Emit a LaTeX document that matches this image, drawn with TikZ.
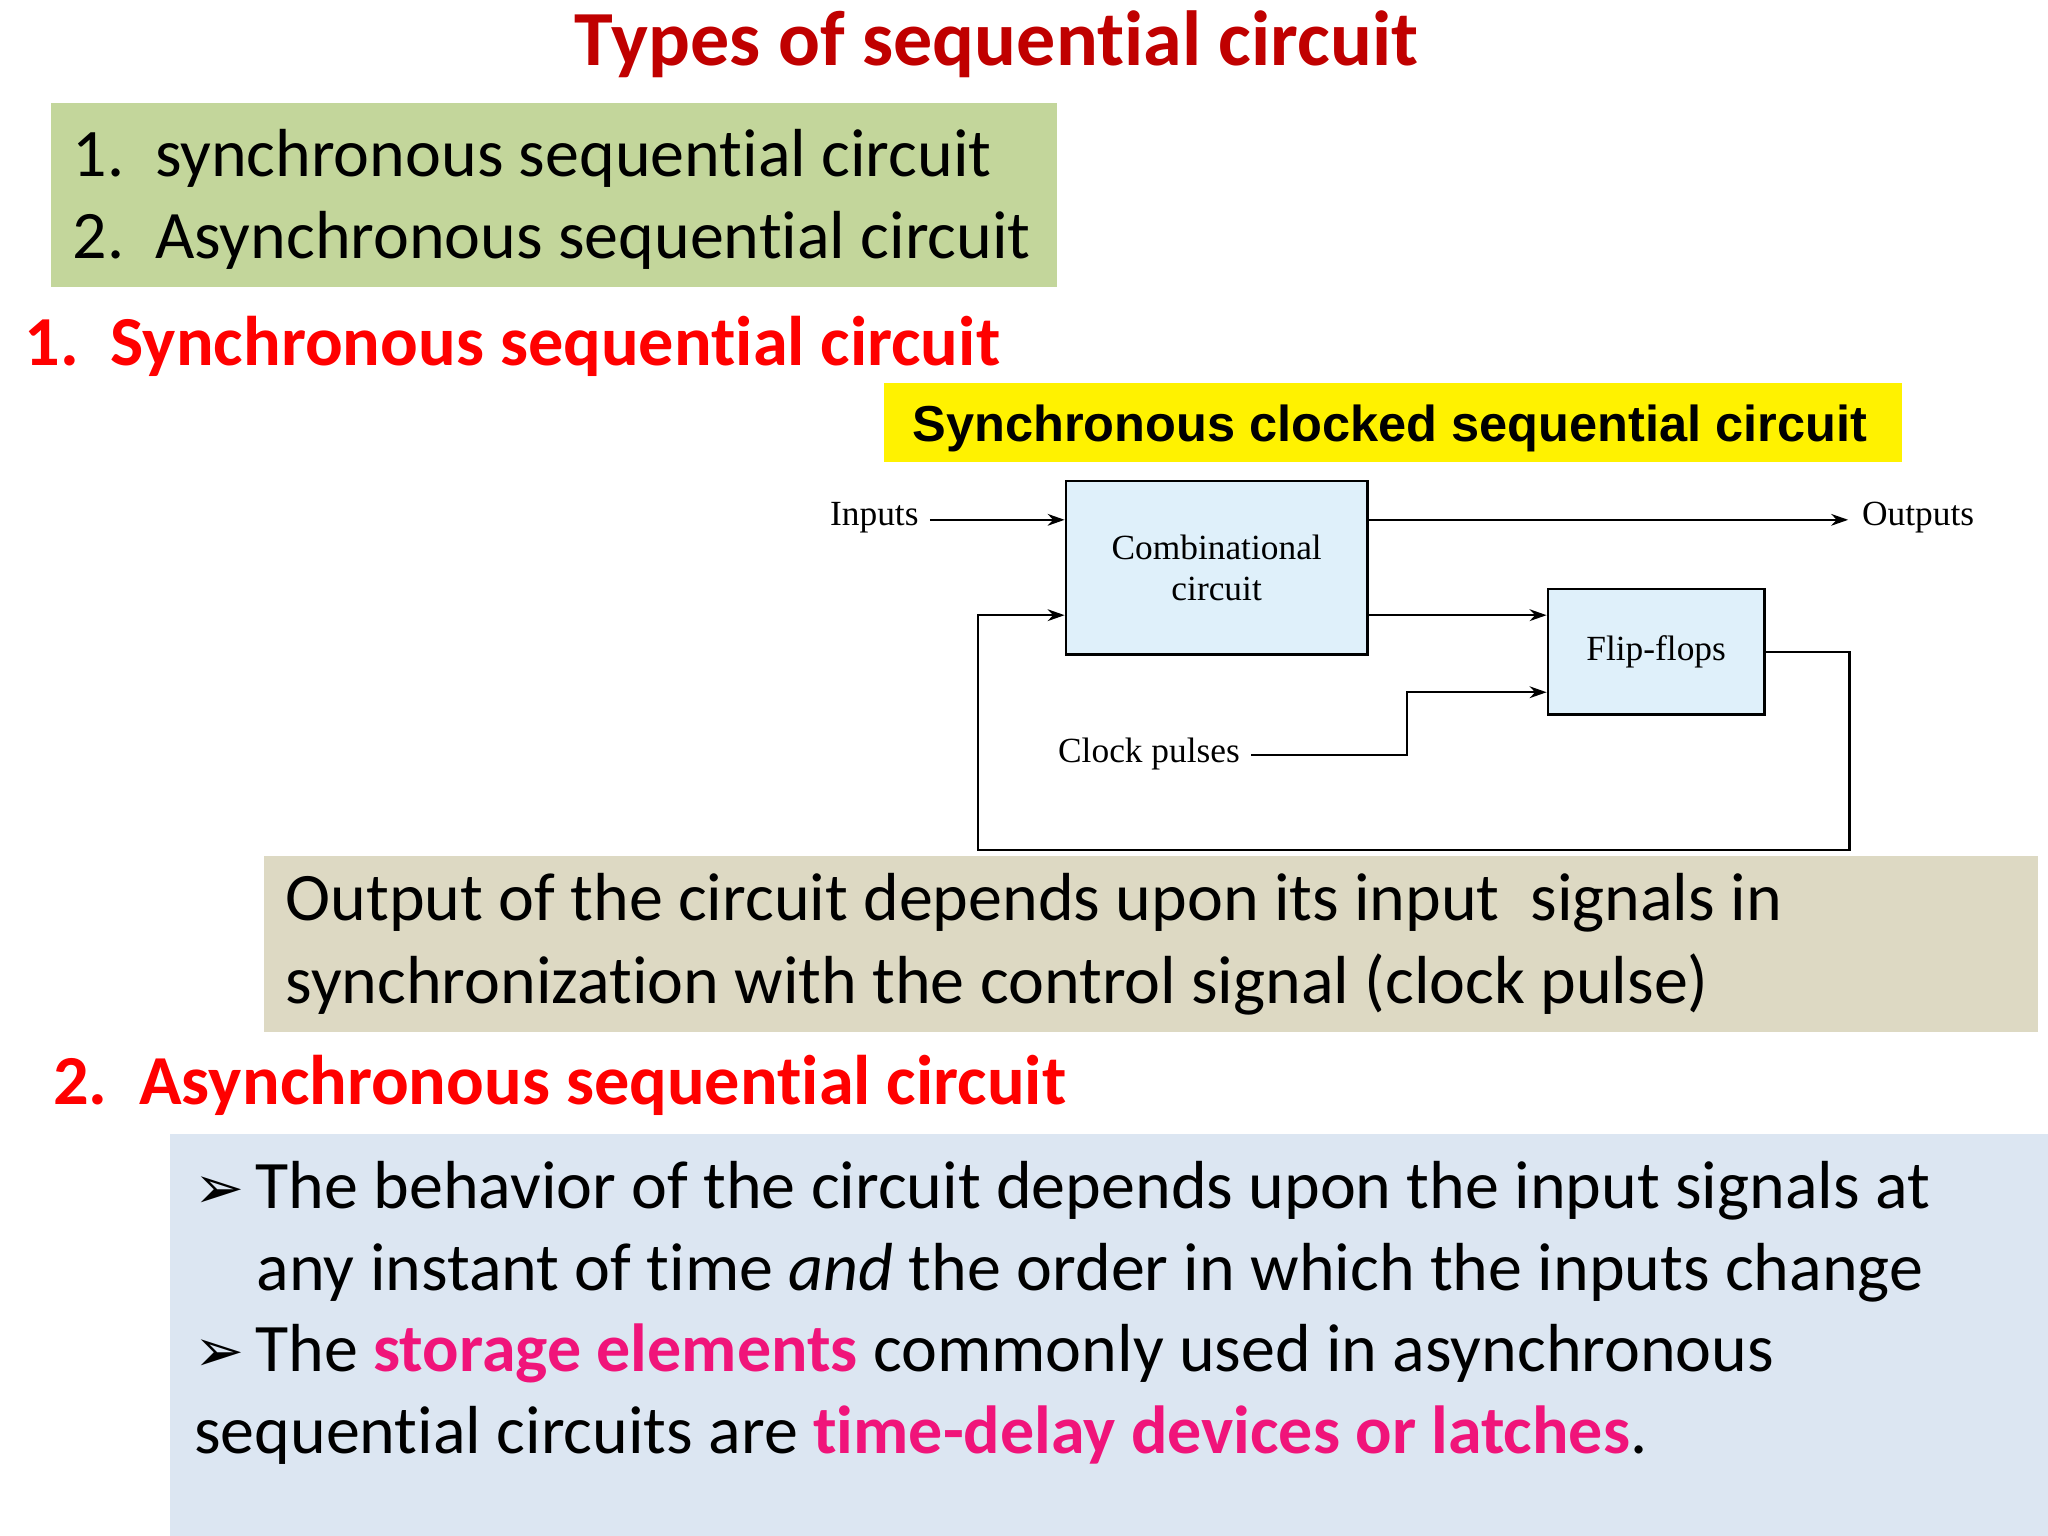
\documentclass[tikz,border=0pt]{standalone}
\usepackage{fontspec}
\setmainfont{Carlito}[Ligatures={NoCommon}]
\newfontfamily\arialf{Liberation Sans}
\newfontfamily\serf{Liberation Serif}
\newfontfamily\djv{DejaVu Sans}
\usetikzlibrary{arrows.meta}
\definecolor{titlered}{HTML}{C00000}
\definecolor{headred}{HTML}{FF0000}
\definecolor{mag}{HTML}{F0147A}
\definecolor{greenbox}{HTML}{C3D69B}
\definecolor{beige}{HTML}{DDD9C3}
\definecolor{bluebox}{HTML}{DCE6F2}
\definecolor{blockfill}{HTML}{DFF0FA}
\begin{document}
\begin{tikzpicture}[x=0.01cm,y=-0.01cm,
  line/.style={line width=0.5pt,black},
  arr/.style={line, -{Stealth[length=1.3mm,width=0.9mm]}},
  blk/.style={draw,line width=0.5pt,fill=blockfill,inner sep=0},
  txt/.style={anchor=base west,inner sep=0,font=\fontsize{14.8}{17}\selectfont},
  head/.style={anchor=base west,inner sep=0,font=\fontsize{15.3}{17}\selectfont\bfseries,text=headred},
  dtxt/.style={inner sep=0,font=\serf\fontsize{7.7}{9}\selectfont,align=center}]
\useasboundingbox (0,0) rectangle (1568,1176);
% title
\node[anchor=base,inner sep=0,font=\fontsize{17}{19}\selectfont\bfseries,text=titlered] (title) at (763,50) {Types of sequential circuit};
% green list
\fill[greenbox] (39,79) rectangle (809,220);
\node[txt] (l1) at (55,135) {1.\ \ synchronous sequential circuit};
\node[txt] (l2) at (55,198) {2.\ \ Asynchronous sequential circuit};
\node[head] (h1) at (18,280) {1.\ \ Synchronous sequential circuit};
% yellow label
\fill[yellow] (677,293) rectangle (1456,354);
\node[anchor=base,inner sep=0,font=\arialf\fontsize{11}{13}\selectfont\bfseries] (ylab) at (1064,338) {Synchronous clocked sequential circuit};
% beige box
\fill[beige] (202,655) rectangle (1560,790);
\node[txt] (p1) at (218,705) {Output of the circuit depends upon its input\ \ signals in};
\node[txt] (p2) at (218,768) {synchronization with the control signal (clock pulse)};
% diagram
\node[blk,minimum width=231*0.01cm,minimum height=133*0.01cm] (comb) at (931.5,434.5) {};
\node[dtxt] (combt) at (931.5,435) {Combinational\\circuit};
\node[blk,minimum width=166*0.01cm,minimum height=96*0.01cm] (ff) at (1268,499) {};
\node[dtxt] (fft) at (1268,499) {Flip-flops};
\node[dtxt,anchor=east] (in) at (704,396) {Inputs};
\node[dtxt,anchor=west] (out) at (1425,396) {Outputs};
\node[dtxt,anchor=east] (clk) at (950,577) {Clock pulses};
\coordinate (inS) at (712,398);
\coordinate (outE) at (1415,398);
\coordinate (clkS) at (958,578);
\draw[arr] (inS) -- (inS -| comb.west);
\draw[arr] (comb.east |- outE) -- (outE);
\draw[arr] (comb.east |- 0,471) -- (ff.west |- 0,471);
\draw[arr] (clkS) -- (1077,578) -- (1077,530) -- (ff.west |- 0,530);
\draw[arr] (ff.east) -- (1416,499) -- (1416,651) -- (749,651) -- (749,471) -- (comb.west |- 0,471);
% section 2
\node[head] (h2) at (40,846) {2.\ \ Asynchronous sequential circuit};
\fill[bluebox] (130,868) rectangle (1568,1176);
\node[txt] (b1) at (148,925) {{\djv\fontsize{13}{15}\selectfont ➢}\,The behavior of the circuit depends upon the input signals at};
\node[txt] (b2) at (196,988) {any instant of time \textit{and} the order in which the inputs change};
\node[txt] (b3) at (148,1050) {{\djv\fontsize{13}{15}\selectfont ➢}\,The \textcolor{mag}{\bfseries storage elements} commonly used in asynchronous};
\node[txt] (b4) at (148,1113) {sequential circuits are \textcolor{mag}{\bfseries time-delay devices or latches}.};
\end{tikzpicture}
\end{document}
